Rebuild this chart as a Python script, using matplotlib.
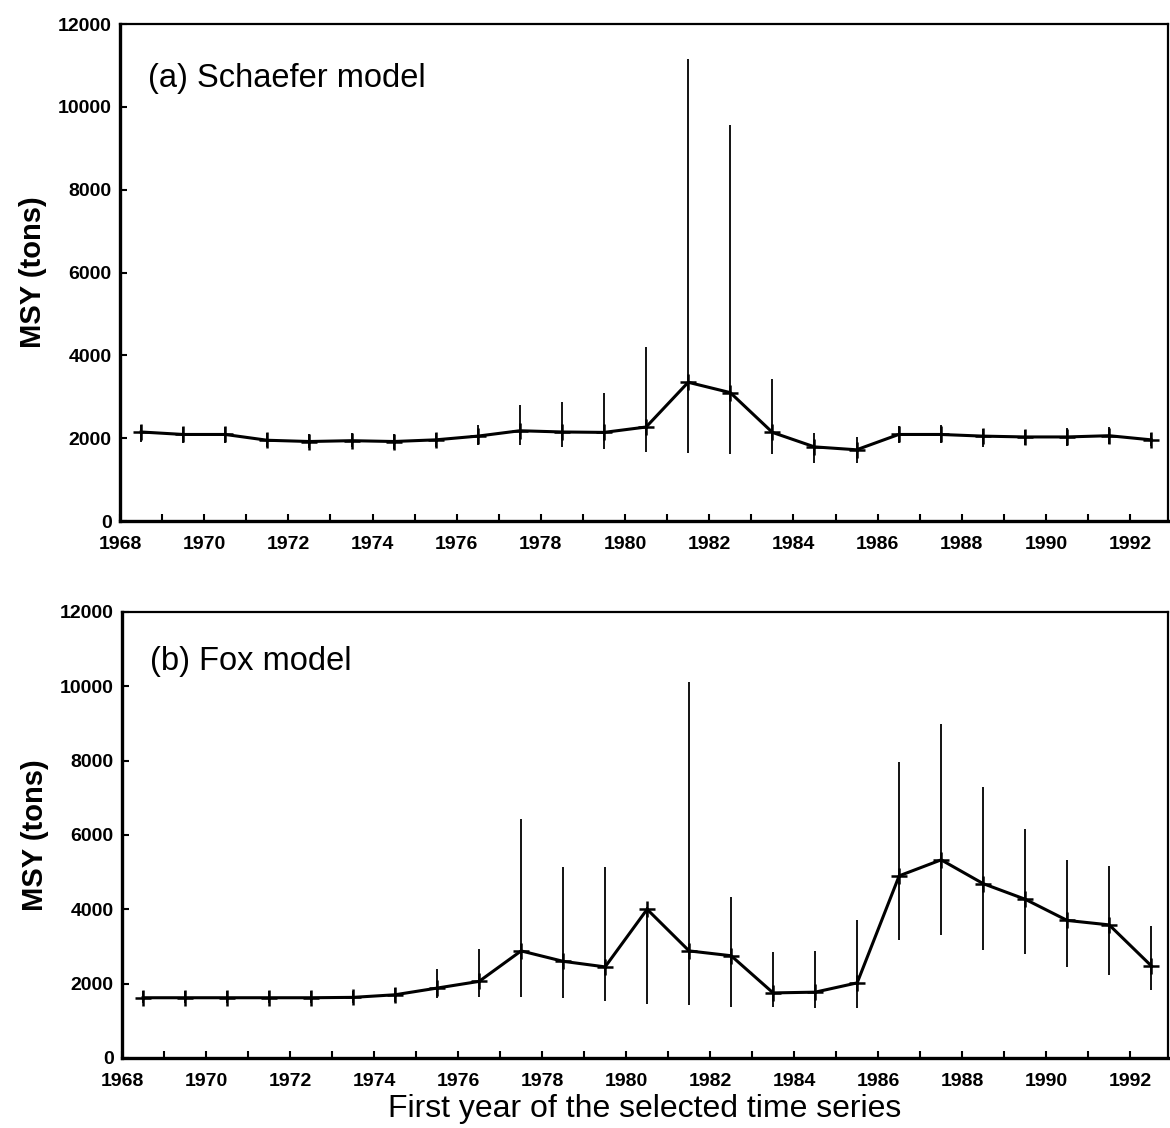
import numpy as np
import matplotlib
matplotlib.use("Agg")
import matplotlib.pyplot as plt
from matplotlib.ticker import MultipleLocator

plt.rcParams['font.family'] = ['Liberation Sans', 'DejaVu Sans']

# First year of the selected time series (points sit mid-year)
years = [1968.5, 1969.5, 1970.5, 1971.5, 1972.5, 1973.5, 1974.5, 1975.5, 1976.5,
         1977.5, 1978.5, 1979.5, 1980.5, 1981.5, 1982.5, 1983.5, 1984.5, 1985.5,
         1986.5, 1987.5, 1988.5, 1989.5, 1990.5, 1991.5, 1992.5]

# (a) Schaefer model
schaefer_msy = [2150, 2090, 2090, 1950, 1920, 1940, 1920, 1960, 2050,
                2180, 2150, 2140, 2270, 3350, 3100, 2140, 1790, 1720,
                2090, 2090, 2050, 2030, 2030, 2060, 1960]
schaefer_low = [1920, 1880, 1880, 1780, 1760, 1780, 1740, 1790, 1830,
                1830, 1790, 1750, 1660, 1650, 1610, 1610, 1400, 1400,
                1880, 1880, 1790, 1840, 1820, 1860, 1800]
schaefer_up = [2310, 2260, 2260, 2120, 2100, 2120, 2110, 2130, 2310,
               2790, 2880, 3100, 4190, 11150, 9550, 3420, 2120, 2030,
               2300, 2310, 2230, 2200, 2240, 2260, 2130]

# (b) Fox model
fox_msy = [1620, 1620, 1620, 1620, 1620, 1630, 1700, 1880, 2060,
           2880, 2600, 2450, 4000, 2880, 2750, 1750, 1770, 2020,
           4900, 5330, 4690, 4270, 3700, 3580, 2480]
fox_low = [1470, 1470, 1470, 1470, 1470, 1480, 1500, 1600, 1650,
           1650, 1620, 1520, 1450, 1420, 1380, 1380, 1350, 1350,
           3170, 3310, 2900, 2800, 2450, 2230, 1840]
fox_up = [1790, 1790, 1790, 1790, 1790, 1800, 1880, 2390, 2940,
          6440, 5130, 5150, 4050, 10120, 4320, 2850, 2880, 3710,
          7970, 8980, 7290, 6160, 5330, 5170, 3540]

fig = plt.figure(figsize=(11.7, 11.28), dpi=100)
ax1 = fig.add_axes([0.1026, 0.5381, 0.8957, 0.4406])
ax2 = fig.add_axes([0.1043, 0.0621, 0.894, 0.3954])

panels = [(ax1, schaefer_msy, schaefer_low, schaefer_up, "(a) Schaefer model"),
          (ax2, fox_msy, fox_low, fox_up, "(b) Fox model")]

for ax, msy, low, up, label in panels:
    msy = np.array(msy)
    yerr = [msy - np.array(low), np.array(up) - msy]
    ax.errorbar(years, msy, yerr=yerr, fmt='none', ecolor='black',
                elinewidth=1.3, capsize=0)
    ax.plot(years, msy, color='black', linewidth=2.2, marker='+',
            markersize=11, markeredgewidth=1.8)
    ax.set_xlim(1968, 1992.9)
    ax.set_ylim(0, 12000)
    ax.xaxis.set_major_locator(MultipleLocator(2))
    ax.xaxis.set_minor_locator(MultipleLocator(1))
    ax.yaxis.set_major_locator(MultipleLocator(2000))
    ax.tick_params(axis='both', which='both', direction='in',
                   top=False, right=False, width=1.5, length=5, labelsize=14)
    ax.tick_params(axis='x', which='major', pad=11)
    ax.tick_params(axis='y', which='major', pad=6)
    for lab in ax.get_xticklabels() + ax.get_yticklabels():
        lab.set_fontweight('bold')
    ax.spines['left'].set_linewidth(2.4)
    ax.spines['bottom'].set_linewidth(2.4)
    ax.spines['top'].set_linewidth(1.6)
    ax.spines['right'].set_linewidth(1.6)
    ax.set_ylabel('MSY (tons)', fontsize=21, fontweight='bold', labelpad=8)
    ax.text(0.027, 0.89, label, transform=ax.transAxes, fontsize=23.5,
            va='center', ha='left')

ax2.set_xlabel('First year of the selected time series', fontsize=23, labelpad=3)

fig.savefig("out.png", dpi=100)
